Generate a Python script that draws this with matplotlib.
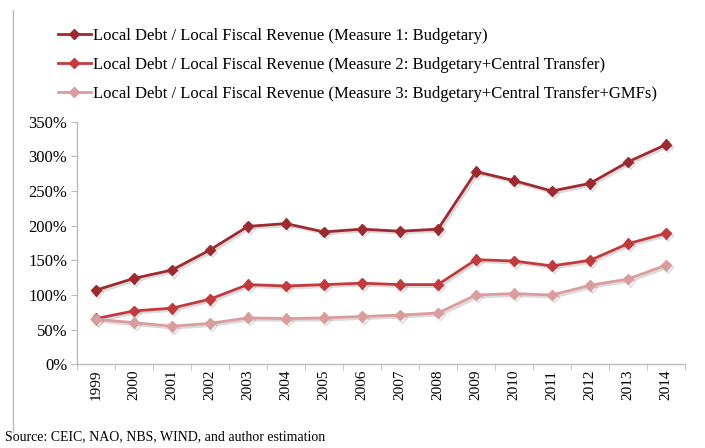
import matplotlib.pyplot as plt
import matplotlib.patheffects as pe
from matplotlib.ticker import FuncFormatter, FixedLocator
from matplotlib.lines import Line2D

plt.rcParams['font.family'] = ['Liberation Serif', 'DejaVu Serif']

years = [str(y) for y in range(1999, 2015)]
measure1 = [107, 124, 136, 165, 199, 203, 191, 195, 192, 195, 278, 265, 250, 261, 292, 317]
measure2 = [66, 77, 81, 94, 115, 113, 115, 117, 115, 115, 151, 149, 142, 150, 174, 189]
measure3 = [65, 60, 55, 59, 67, 66, 67, 69, 71, 74, 100, 102, 100, 114, 123, 143]

labels = [
    'Local Debt / Local Fiscal Revenue (Measure 1: Budgetary)',
    'Local Debt / Local Fiscal Revenue (Measure 2: Budgetary+Central Transfer)',
    'Local Debt / Local Fiscal Revenue (Measure 3: Budgetary+Central Transfer+GMFs)',
]
colors = ['#9E2A2F', '#C33A3D', '#DB9C9D']

W, H = 705, 448
fig = plt.figure(figsize=(W / 100, H / 100), dpi=100)
ax = fig.add_axes([77 / W, 1 - 364.3 / H, (685 - 77) / W, (364.3 - 121.7) / H])

shadow = [pe.SimpleLineShadow(offset=(1.5, -1.5), shadow_color='#888888', alpha=0.3),
          pe.Normal()]

x = list(range(len(years)))
for vals, col, lab in zip([measure1, measure2, measure3], colors, labels):
    ax.plot(x, vals, color=col, lw=2.0, marker='D', ms=5.5, label=lab,
            path_effects=shadow)

ax.set_xlim(-0.5, len(years) - 0.5)
ax.set_ylim(0, 350)
ax.set_yticks(range(0, 351, 50))
ax.yaxis.set_major_formatter(FuncFormatter(lambda v, p: f'{int(v)}%'))
ax.set_xticks(x)
ax.set_xticklabels(years, rotation=90)
ax.xaxis.set_minor_locator(FixedLocator([i - 0.5 for i in range(len(years) + 1)]))
ax.tick_params(axis='x', which='major', length=0, pad=4, labelsize=11)
ax.tick_params(axis='x', which='minor', length=4, color='#BBBBBB', direction='out')
ax.tick_params(axis='y', length=4, color='#BBBBBB', labelsize=12, pad=3)

for s in ['top', 'right']:
    ax.spines[s].set_visible(False)
for s in ['left', 'bottom']:
    ax.spines[s].set_color('#BBBBBB')
    ax.spines[s].set_linewidth(1.0)

handles = [Line2D([0], [0], color=c, lw=2.0, marker='D', ms=5.5) for c in colors]
fig.legend(handles, labels, loc='upper left', bbox_to_anchor=(51 / W, 1 - 21 / H),
           frameon=False, fontsize=12, handlelength=2.0, handletextpad=0.1,
           labelspacing=0.78, borderaxespad=0)

# left border line of the original figure frame
fig.add_artist(Line2D([13 / W, 13 / W], [1 - 10 / H, 1 - 432 / H], color='#BBBBBB', lw=1.0))

fig.text(5 / W, 1 - 437 / H, 'Source: CEIC, NAO, NBS, WIND, and author estimation',
         fontsize=10, va='center', ha='left')

fig.savefig('out.png', dpi=100)
